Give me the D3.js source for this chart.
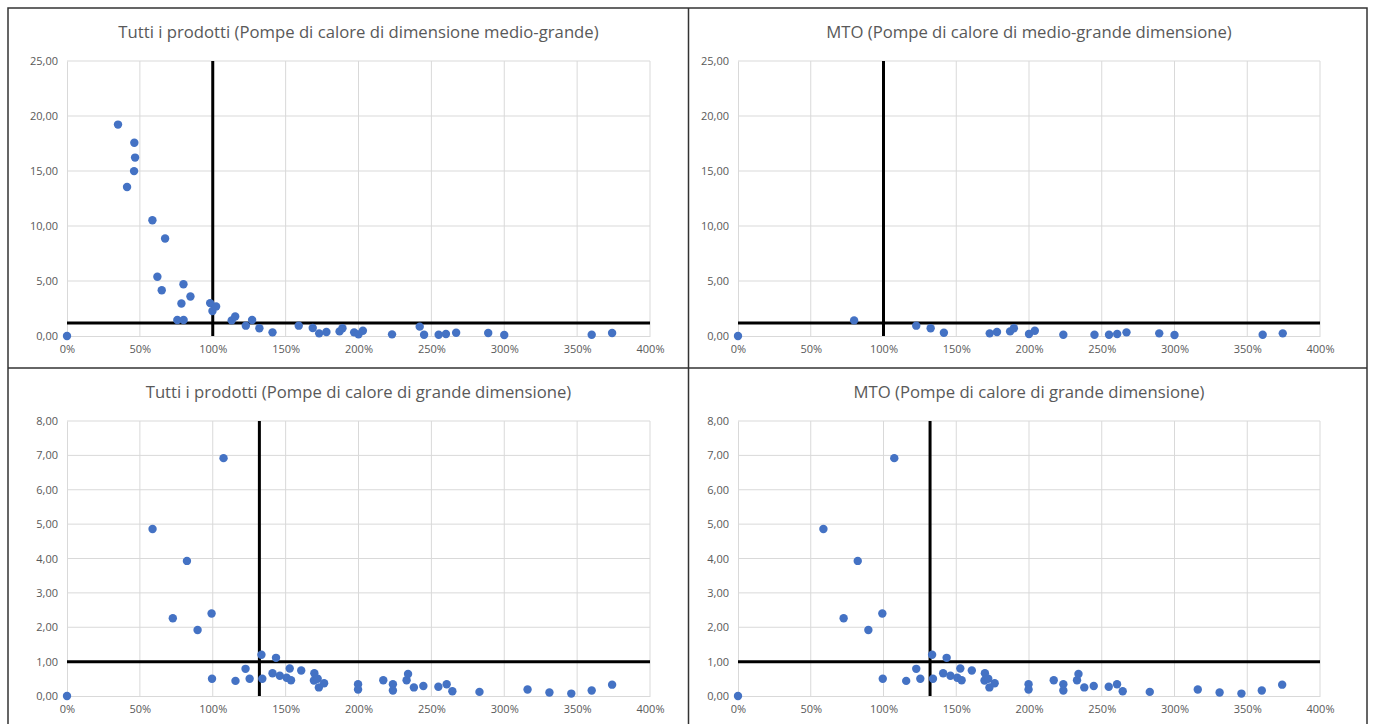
<!DOCTYPE html>
<html lang="it">
<head>
<meta charset="utf-8">
<title>Pompe di calore</title>
<style>
  body { margin: 0; background: #fff; }
  svg { display: block; }
  .tick text { font-family: "Open Sans", sans-serif; font-size: 11px; fill: #595959; }
  .title { font-family: "Open Sans", sans-serif; font-size: 16.7px; fill: #595959; }
</style>
</head>
<body>
<div id="chart"></div>
<script src="https://cdn.jsdelivr.net/npm/d3@7"></script>
<script>
// --- data (x = % rapporto, y = valore) ---
var titles = [
  "Tutti i prodotti (Pompe di calore di dimensione medio-grande)",
  "MTO (Pompe di calore di medio-grande dimensione)",
  "Tutti i prodotti (Pompe di calore di grande dimensione)",
  "MTO (Pompe di calore di grande dimensione)"
];

var xTicks = [0, 50, 100, 150, 200, 250, 300, 350, 400];
var yTicksMedio = [0, 5, 10, 15, 20, 25];
var yTicksGrande = [0, 1, 2, 3, 4, 5, 6, 7, 8];

var medioAllX = [0, 35, 46.2, 46.7, 46, 41.2, 58.6, 67.3, 62, 65, 79.9, 78.5, 84.7, 75.7, 80,
  98.2, 99.8, 102.3, 113, 115.4, 122.7, 127, 132, 141, 159, 168.6, 173, 178, 187, 189,
  197, 200, 203, 223, 242, 245, 255, 260, 267, 289, 300, 360, 374];
var medioAllY = [0, 19.22, 17.57, 16.22, 14.99, 13.55, 10.52, 8.87, 5.39, 4.16, 4.70, 2.96, 3.59, 1.46, 1.46,
  2.99, 2.27, 2.69, 1.42, 1.78, 0.94, 1.45, 0.70, 0.33, 0.94, 0.73, 0.24, 0.36, 0.42, 0.70,
  0.33, 0.15, 0.48, 0.15, 0.85, 0.12, 0.12, 0.18, 0.30, 0.27, 0.09, 0.12, 0.27];

var medioMtoX = [0, 79.8, 122.5, 132.4, 141.5, 173, 178, 187, 189.6, 200, 204, 223.6, 245, 255,
  260.6, 267, 289.5, 300, 360.6, 374.4];
var medioMtoY = [0, 1.42, 0.94, 0.70, 0.30, 0.24, 0.36, 0.42, 0.70, 0.18, 0.48, 0.12, 0.12, 0.12,
  0.18, 0.33, 0.24, 0.09, 0.12, 0.24];

var grandeX = [0, 58.7, 82.3, 72.6, 89.6, 99.2, 107.4, 99.5, 115.6, 122.5, 125.3, 133.4, 134, 141,
  143.4, 146, 150.7, 152.8, 153.7, 160.7, 169.7, 169.4, 172, 172.8, 176.4, 199.7, 199.7, 217,
  223.6, 223.6, 233, 234, 238, 244.5, 254.8, 260.5, 264.4, 283, 316, 331, 346, 360, 374];
var grandeY = [0, 4.86, 3.93, 2.26, 1.92, 2.40, 6.92, 0.50, 0.44, 0.79, 0.50, 1.20, 0.50, 0.66,
  1.11, 0.59, 0.53, 0.80, 0.46, 0.74, 0.66, 0.45, 0.50, 0.25, 0.37, 0.34, 0.19, 0.46,
  0.34, 0.16, 0.46, 0.64, 0.25, 0.29, 0.27, 0.34, 0.14, 0.12, 0.19, 0.10, 0.07, 0.16, 0.33];

// soglie (linee nere)
var thresholdsX = [100, 100, 132, 132];
var thresholdsY = [1.18, 1.18, 1.0, 1.0];

// --- layout ---
var W = 1375, H = 724;
var boxes = [
  {x0: 67, x1: 650, y0: 61, y1: 336, ty: 38},
  {x0: 738, x1: 1320, y0: 61, y1: 336, ty: 38},
  {x0: 67, x1: 650, y0: 421, y1: 696, ty: 398},
  {x0: 738, x1: 1320, y0: 421, y1: 696, ty: 398}
];
var series = [
  {xs: medioAllX, ys: medioAllY, yTicks: yTicksMedio},
  {xs: medioMtoX, ys: medioMtoY, yTicks: yTicksMedio},
  {xs: grandeX, ys: grandeY, yTicks: yTicksGrande},
  {xs: grandeX, ys: grandeY, yTicks: yTicksGrande}
];

var svg = d3.select("#chart").append("svg")
  .attr("width", W)
  .attr("height", H);

svg.append("rect").attr("width", W).attr("height", H).attr("fill", "#fff");

var fmtY = function(d) { return d3.format(".2f")(d).replace(".", ","); };
var fmtX = function(d) { return d + "%"; };

series.forEach(function(s, i) {
  var b = boxes[i];
  var yMax = s.yTicks[s.yTicks.length - 1];

  var x = d3.scaleLinear().domain([0, 400]).range([b.x0, b.x1]);
  var y = d3.scaleLinear().domain([0, yMax]).range([b.y1, b.y0]);

  var g = svg.append("g");

  // griglia
  g.append("g").selectAll("line").data(xTicks.slice(1))
    .enter().append("line")
    .attr("x1", function(d) { return x(d); }).attr("x2", function(d) { return x(d); })
    .attr("y1", b.y0).attr("y2", b.y1)
    .attr("stroke", "#d9d9d9").attr("stroke-width", 1);
  g.append("g").selectAll("line").data(s.yTicks.slice(1))
    .enter().append("line")
    .attr("x1", b.x0).attr("x2", b.x1)
    .attr("y1", function(d) { return y(d); }).attr("y2", function(d) { return y(d); })
    .attr("stroke", "#d9d9d9").attr("stroke-width", 1);

  var xAxis = d3.axisBottom(x).tickValues(xTicks).tickFormat(fmtX).tickSize(0).tickPadding(9);
  var yAxis = d3.axisLeft(y).tickValues(s.yTicks).tickFormat(fmtY).tickSize(0).tickPadding(9);

  var gx = g.append("g").attr("transform", "translate(0," + b.y1 + ")").call(xAxis);
  gx.select(".domain").attr("stroke", "#d9d9d9");
  var gy = g.append("g").attr("transform", "translate(" + b.x0 + ",0)").call(yAxis);
  gy.select(".domain").attr("stroke", "#d9d9d9");

  // soglie
  g.append("line")
    .attr("x1", x(thresholdsX[i])).attr("x2", x(thresholdsX[i]))
    .attr("y1", b.y0).attr("y2", b.y1)
    .attr("stroke", "#000").attr("stroke-width", 3);
  g.append("line")
    .attr("x1", b.x0).attr("x2", b.x1)
    .attr("y1", y(thresholdsY[i])).attr("y2", y(thresholdsY[i]))
    .attr("stroke", "#000").attr("stroke-width", 3);

  // punti
  g.append("g").selectAll("circle").data(d3.range(s.xs.length))
    .enter().append("circle")
    .attr("cx", function(k) { return x(s.xs[k]); })
    .attr("cy", function(k) { return y(s.ys[k]); })
    .attr("r", 4.2)
    .attr("fill", "#4472c4");

  g.append("text").attr("class", "title")
    .attr("x", (b.x0 + b.x1) / 2).attr("y", b.ty)
    .attr("text-anchor", "middle")
    .text(titles[i]);
});

// cornici
svg.append("rect").attr("x", 8).attr("y", 8).attr("width", 1359).attr("height", 730)
  .attr("fill", "none").attr("stroke", "#333").attr("stroke-width", 1.5);
svg.append("line").attr("x1", 688.5).attr("x2", 688.5).attr("y1", 8).attr("y2", H)
  .attr("stroke", "#333").attr("stroke-width", 1.5);
svg.append("line").attr("x1", 8).attr("x2", 1367).attr("y1", 368).attr("y2", 368)
  .attr("stroke", "#333").attr("stroke-width", 1.5);
</script>
</body>
</html>
